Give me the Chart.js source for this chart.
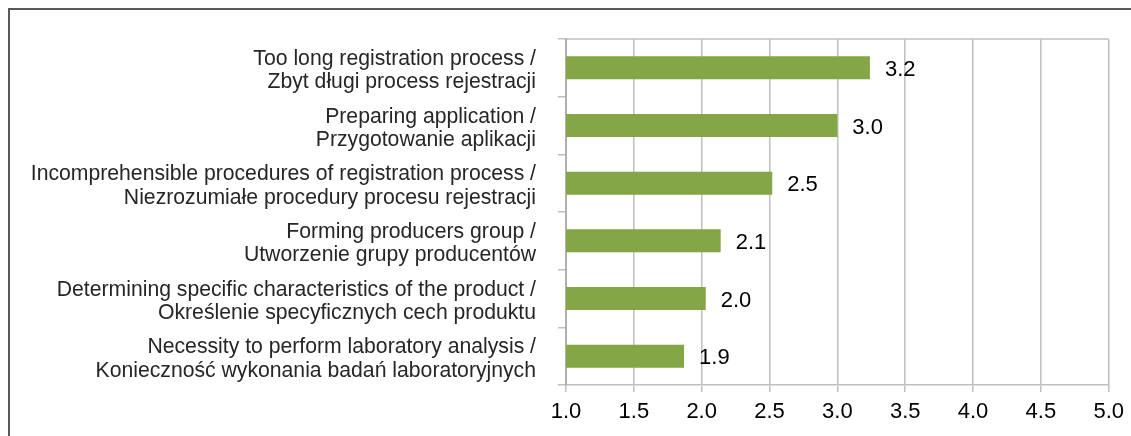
<!DOCTYPE html>
<html>
<head>
<meta charset="utf-8">
<script src="https://cdn.jsdelivr.net/npm/chart.js@4"></script>
<style>
    html, body { margin: 0; padding: 0; background: #fff; }
    #wrap { position: relative; width: 1131px; height: 436px; }
</style>
</head>
<body>
<div id="wrap"><canvas id="chart" width="1131" height="436"></canvas></div>
<script>
// Categories (English / Polish), top to bottom
const categories = [
    ["Too long registration process /", "Zbyt długi process rejestracji"],
    ["Preparing application /", "Przygotowanie aplikacji"],
    ["Incomprehensible procedures of registration process /", "Niezrozumiałe procedury procesu rejestracji"],
    ["Forming producers group /", "Utworzenie grupy producentów"],
    ["Determining specific characteristics of the product /", "Określenie specyficznych cech produktu"],
    ["Necessity to perform laboratory analysis /", "Konieczność wykonania badań laboratoryjnych"]
];
const values = [3.24, 3.0, 2.52, 2.14, 2.03, 1.87];
const xMin = 1.0;
const xMax = 5.0;
const xStep = 0.5;

const barColor = '#84a646';
const fontFamily = '"Liberation Sans", Arial, sans-serif';

// outer frame (only top and left edges are visible in the picture)
const framePlugin = {
    id: 'frame',
    beforeDraw(chart) {
        const ctx = chart.ctx;
        ctx.save();
        ctx.strokeStyle = '#595959';
        ctx.lineWidth = 2;
        ctx.beginPath();
        ctx.moveTo(9, chart.height);
        ctx.lineTo(9, 9);
        ctx.lineTo(chart.width, 9);
        ctx.stroke();
        // top edge of plot area
        const a = chart.chartArea;
        ctx.strokeStyle = '#c0c0c0';
        ctx.lineWidth = 1.5;
        ctx.beginPath();
        ctx.moveTo(a.left, a.top);
        ctx.lineTo(a.right, a.top);
        ctx.stroke();
        ctx.restore();
    }
};

// value labels to the right of each bar
const valueLabels = {
    id: 'valueLabels',
    afterDatasetsDraw(chart) {
        const ctx = chart.ctx;
        const meta = chart.getDatasetMeta(0);
        ctx.save();
        ctx.font = '22px ' + fontFamily;
        ctx.fillStyle = '#000';
        ctx.textAlign = 'left';
        ctx.textBaseline = 'middle';
        meta.data.forEach((bar, i) => {
            ctx.fillText(values[i].toFixed(1), bar.x + 15, bar.y + 2);
        });
        ctx.restore();
    }
};

const ctx = document.getElementById('chart').getContext('2d');
const chart = new Chart(ctx, {
    type: 'bar',
    data: {
        labels: categories,
        datasets: [{
            data: values,
            backgroundColor: barColor,
            borderWidth: 0,
            barPercentage: 0.4,
            categoryPercentage: 1.0
        }]
    },
    options: {
        indexAxis: 'y',
        responsive: false,
        animation: false,
        layout: {
            padding: { top: 39, right: 21, left: 0, bottom: 0 }
        },
        plugins: {
            legend: { display: false },
            tooltip: { enabled: false }
        },
        scales: {
            x: {
                min: xMin,
                max: xMax,
                ticks: {
                    stepSize: xStep,
                    padding: 7,
                    color: '#000',
                    font: { family: fontFamily, size: 22 },
                    callback: v => v.toFixed(1)
                },
                grid: {
                    color: '#bfbfbf',
                    lineWidth: 1.5,
                    tickLength: 7
                },
                border: { color: '#bfbfbf', width: 1.5 },
                afterFit(scale) { scale.height = 51; }
            },
            y: {
                ticks: {
                    padding: 22,
                    labelOffset: 3,
                    color: '#262626',
                    font: { family: fontFamily, size: 21.2, lineHeight: 1.1 }
                },
                grid: {
                    offset: true,
                    drawOnChartArea: false,
                    color: '#bfbfbf',
                    lineWidth: 1.5,
                    tickLength: 8
                },
                border: { color: '#b0b0b0', width: 2 },
                afterFit(scale) {
                    scale.width = 566;
                    // labels sit inside their bands, no extra room needed
                    scale.paddingTop = 0;
                    scale.paddingBottom = 0;
                }
            }
        }
    },
    plugins: [framePlugin, valueLabels]
});
</script>
</body>
</html>
